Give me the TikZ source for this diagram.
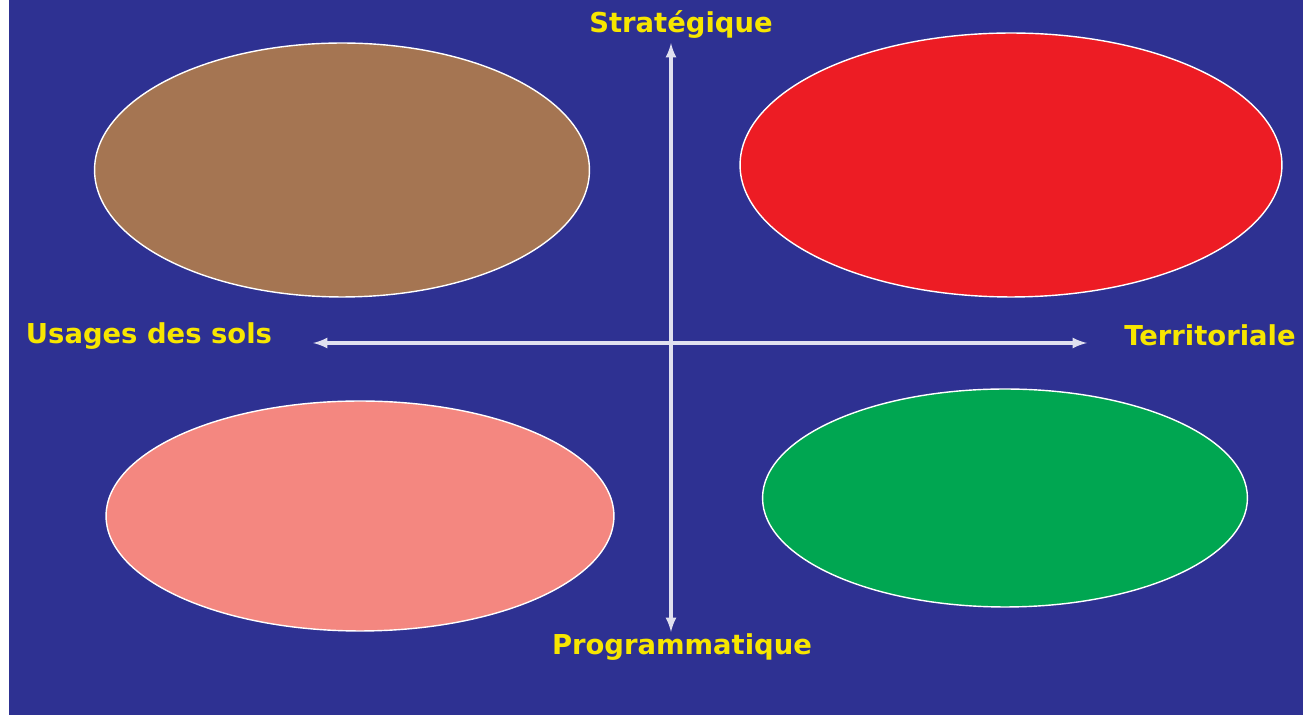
\documentclass[tikz,border=0pt]{standalone}
\usepackage{fontspec}
\setmainfont{DejaVu Sans}
\usepackage{tikz}
\usetikzlibrary{shapes.geometric,arrows,positioning,calc}
\definecolor{bgBlue}{HTML}{2E3192}
\definecolor{axisYellow}{HTML}{F7E600}
\definecolor{quadBrown}{HTML}{A57552}
\definecolor{quadRed}{HTML}{ED1C24}
\definecolor{quadPink}{HTML}{F48780}
\definecolor{quadGreen}{HTML}{00A651}
\tikzset{
    quadEllipse/.style={
        ellipse,
        draw=white,
        line width=0.8pt,
        inner sep=0pt
    },
    axisLabel/.style={
        font=\fontsize{15.6}{18}\selectfont\bfseries,
        text=axisYellow,
        inner sep=0pt
    },
    axisArrow/.style={<->, >=latex, line width=1.8pt, draw=white!85!bgBlue}
}
\begin{document}
\begin{tikzpicture}[x=0.02cm, y=-0.02cm]
    \useasboundingbox (0,0) rectangle (1303,715);
    \fill[bgBlue] (9,0) rectangle (1303,715);

    % quadrants
    \node[quadEllipse, fill=quadBrown, minimum width=9.9cm, minimum height=5.08cm] (strat-sols) at (342,170) {};
    \node[quadEllipse, fill=quadRed, minimum width=10.84cm, minimum height=5.28cm] (strat-terr) at (1011,165) {};
    \node[quadEllipse, fill=quadPink, minimum width=10.16cm, minimum height=4.6cm] (prog-sols) at (360,516) {};
    \node[quadEllipse, fill=quadGreen, minimum width=9.7cm, minimum height=4.36cm] (prog-terr) at (1005,498) {};

    % axes
    \coordinate (top) at (671,43);
    \coordinate (bottom) at (671,632);
    \coordinate (left) at (313,343);
    \coordinate (right) at (1087,343);
    \draw[axisArrow] (bottom) -- (top);
    \draw[axisArrow] (left) -- (right);

    \node[axisLabel] (strategique) at (681,25) {Stratégique};
    \node[axisLabel] (programmatique) at (682,647) {Programmatique};
    \node[axisLabel] (usages) at (149,336) {Usages des sols};
    \node[axisLabel] (territoriale) at (1210,335) {Territoriale};
\end{tikzpicture}
\end{document}
